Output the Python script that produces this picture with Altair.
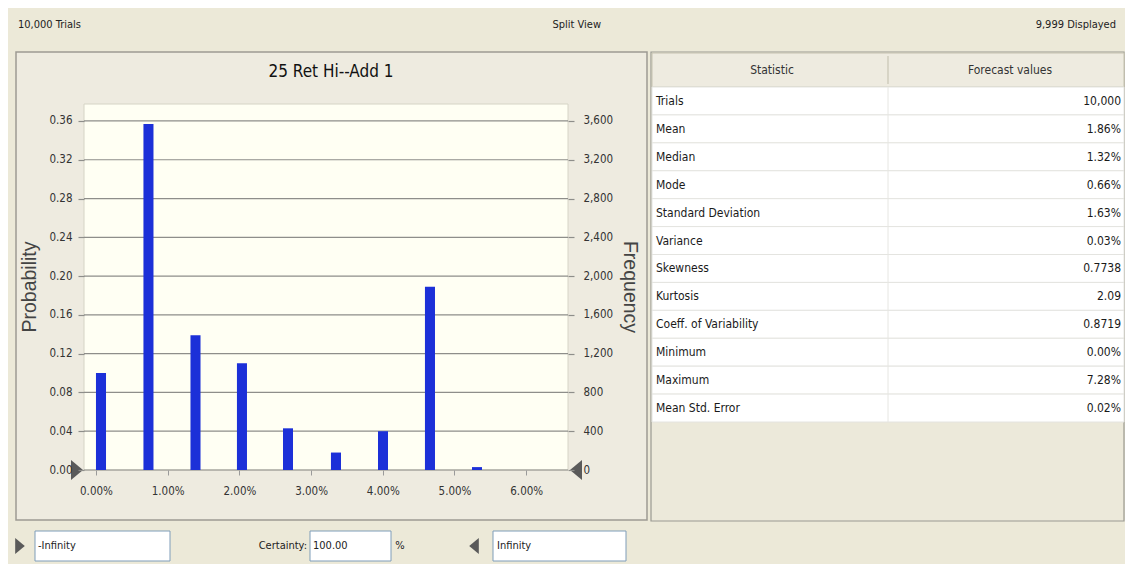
import altair as alt
import pandas as pd

# ---------------- data ----------------
bin_lo = [0.00000, 0.00662, 0.01318, 0.01966, 0.02608, 0.03277, 0.03933, 0.04588, 0.05244]
bin_hi = [0.00140, 0.00802, 0.01458, 0.02106, 0.02748, 0.03417, 0.04073, 0.04728, 0.05384]
probability = [0.100, 0.357, 0.139, 0.110, 0.043, 0.018, 0.040, 0.189, 0.003]
n_trials = 10000

prob_ticks = [0.00, 0.04, 0.08, 0.12, 0.16, 0.20, 0.24, 0.28, 0.32, 0.36]
freq_ticks = [0, 400, 800, 1200, 1600, 2000, 2400, 2800, 3200, 3600]
x_ticks = [0.00, 0.01, 0.02, 0.03, 0.04, 0.05, 0.06]

stat_names = ["Trials", "Mean", "Median", "Mode", "Standard Deviation", "Variance",
              "Skewness", "Kurtosis", "Coeff. of Variability", "Minimum", "Maximum",
              "Mean Std. Error"]
stat_values = ["10,000", "1.86%", "1.32%", "0.66%", "1.63%", "0.03%", "0.7738",
               "2.09", "0.8719", "0.00%", "7.28%", "0.02%"]

title_text = "25 Ret Hi--Add 1"
header_left = "10,000 Trials"
header_mid = "Split View"
header_right = "9,999 Displayed"
col_heads = ["Statistic", "Forecast values"]

# ---------------- layout ----------------
W, H = 1117, 556
OX, OY = 8, 8          # page margin: screenshot pixel -> chart pixel
FONT = "'Liberation Sans Narrow', 'Arial Narrow', 'DejaVu Sans Condensed', 'Liberation Sans', sans-serif"
FONT_W = "'Liberation Sans', Arial, sans-serif"
BG = "#ECE9D8"


def px(v):
    return v - OX


def py(v):
    return v - OY


one = pd.DataFrame({"k": [0]})


def rect(x0, y0, x1, y1, fill, stroke=None, sw=1.0):
    kw = dict(fill=fill)
    if stroke:
        kw.update(stroke=stroke, strokeWidth=sw)
    else:
        kw.update(strokeWidth=0)
    return alt.Chart(one).mark_rect(**kw).encode(
        x=alt.value(px(x0)), x2=alt.value(px(x1)),
        y=alt.value(py(y0)), y2=alt.value(py(y1)))


def vline(x, y0, y1, color, sw=1.0):
    return alt.Chart(one).mark_rule(color=color, strokeWidth=sw).encode(
        x=alt.value(px(x)), y=alt.value(py(y0)), y2=alt.value(py(y1)))


def label(txt, x, y, size=11, align="left", color="#222222", angle=0, font=FONT):
    return alt.Chart(one).mark_text(
        text=txt, align=align, baseline="middle", fontSize=size, font=font,
        color=color, angle=angle).encode(x=alt.value(px(x)), y=alt.value(py(y)))


def tri(x, y, direction, size):
    path = "M-0.6,-1L0.6,0L-0.6,1Z" if direction == "right" else "M0.6,-1L-0.6,0L0.6,1Z"
    return alt.Chart(one).mark_point(
        shape=path, filled=True, size=size, color="#5a5a5a", opacity=1, strokeWidth=0
    ).encode(x=alt.value(px(x)), y=alt.value(py(y)))


# plot area in screenshot pixels
PL, PR, PT, PB = 84, 568, 104, 470

x_scale = alt.Scale(domain=[-0.00167, 0.06583], range=[px(PL), px(PR)], nice=False, zero=False)
prob_scale = alt.Scale(domain=[0, 0.3775], range=[py(PB), py(PT)], nice=False)
freq_scale = alt.Scale(domain=[0, 0.3775 * n_trials], range=[py(PB), py(PT)], nice=False)

hist = pd.DataFrame({"lo": bin_lo, "hi": bin_hi, "p": probability})

# ---------------- chrome ----------------
layers = []
layers.append(label(header_left, 18, 25, size=11))
layers.append(label(header_mid, 601, 25, size=11, align="right"))
layers.append(label(header_right, 1116, 25, size=11, align="right"))

# chart panel
layers.append(rect(16, 52, 647, 520, "#EEEBE0", "#9d9b92", 1.5))
layers.append(label(title_text, 331, 72, size=17, align="center", color="#111111"))
# plot background
layers.append(rect(PL, PT, PR, PB, "#FFFFF3", "#d6d4c6", 1))

# grid lines through the probability scale
grid = alt.Chart(pd.DataFrame({"g": prob_ticks})).mark_rule(
    color="#8e8e8a", strokeWidth=1.2).encode(
    y=alt.Y("g:Q", scale=prob_scale, axis=None),
    x=alt.value(px(PL)), x2=alt.value(px(PR)))
layers.append(grid)

# bars + x axis + probability axis
bars = alt.Chart(hist).mark_rect(color="#1c30d8").encode(
    x=alt.X("lo:Q", scale=x_scale,
            axis=alt.Axis(orient="bottom", values=x_ticks, format=".2%",
                          offset=-(H - py(PB)), domain=False, grid=False,
                          tickSize=5, tickColor="#9a9a9a", tickWidth=1,
                          labelFont=FONT, labelFontSize=11.5, labelColor="#333333",
                          labelPadding=10, title=None, zindex=1,
                          labelFlush=False, labelOverlap=False)),
    x2="hi:Q",
    y=alt.Y("p:Q", scale=prob_scale,
            axis=alt.Axis(orient="left", values=prob_ticks, format=".2f",
                          offset=-px(PL), domain=False, grid=False,
                          tickSize=6, tickColor="#8e8e8a", tickWidth=1.2,
                          labelFont=FONT, labelFontSize=11.5, labelColor="#333333",
                          labelPadding=6, title=None, zindex=1,
                          labelFlush=False, labelOverlap=False)),
    y2=alt.datum(0),
)
layers.append(bars)

# frequency axis (right) through its own scale
freq = alt.Chart(hist).transform_calculate(freq=f"datum.p * {n_trials}").mark_point(
    opacity=0).encode(
    x=alt.value(px(300)),
    y=alt.Y("freq:Q", scale=freq_scale,
            axis=alt.Axis(orient="right", values=freq_ticks, format=",d",
                          offset=-(W - px(PR)), domain=False, grid=False,
                          tickSize=6, tickColor="#8e8e8a", tickWidth=1.2,
                          labelFont=FONT, labelFontSize=11.5, labelColor="#333333",
                          labelPadding=9, title=None, zindex=1,
                          labelFlush=False, labelOverlap=False)),
)
layers.append(freq)

layers.append(label("Probability", 30, 287, size=19.5, align="center", color="#444444",
                    angle=270, font=FONT_W))
layers.append(label("Frequency", 630, 287, size=19.5, align="center", color="#444444",
                    angle=90, font=FONT_W))
layers.append(tri(77, 470, "right", 400))
layers.append(tri(576, 470, "left", 400))

# ---------------- statistics table ----------------
TL, TR, TT, TH, TB = 652, 1124, 53, 87, 422
layers.append(rect(651, 52, TR, 521, "#ECE9DA", "#9a9a92", 1.2))
layers.append(rect(TL, TT, TR, TH, "#EEEBE0", "#c5c2b0", 1))
layers.append(vline(888, TT + 3, TH - 3, "#c0bdab"))
layers.append(label(col_heads[0], 772, 70, size=12, align="center", color="#333333"))
layers.append(label(col_heads[1], 1010, 70, size=12, align="center", color="#333333"))

tbl = pd.DataFrame({"row": list(range(len(stat_names))), "name": stat_names,
                    "value": stat_values})
row_band = alt.Scale(type="band", domain=list(range(len(stat_names))),
                     range=[py(TH), py(TB)], paddingInner=0, paddingOuter=0)
row_point = alt.Scale(type="point", domain=list(range(len(stat_names))),
                      range=[py(TH), py(TB)], padding=0.5)
cells = alt.Chart(tbl).mark_rect(fill="white", stroke="#e4e4e0", strokeWidth=1).encode(
    y=alt.Y("row:O", scale=row_band, axis=None),
    x=alt.value(px(TL)), x2=alt.value(px(TR)))
layers.append(cells)
layers.append(vline(888, TH, TB, "#e6e6e2"))
names = alt.Chart(tbl).mark_text(align="left", baseline="middle", font=FONT,
                                 fontSize=12, color="#1a1a1a").encode(
    y=alt.Y("row:O", scale=row_point, axis=None),
    x=alt.value(px(656)), text="name:N")
values = alt.Chart(tbl).mark_text(align="right", baseline="middle", font=FONT,
                                  fontSize=12, color="#1a1a1a").encode(
    y=alt.Y("row:O", scale=row_point, axis=None),
    x=alt.value(px(1121)), text="value:N")
layers += [names, values]

# ---------------- bottom controls ----------------
BY = 546
layers.append(tri(20, BY, "right", 256))
layers.append(rect(35, 531, 170, 561, "white", "#7f9db9", 1))
layers.append(label("-Infinity", 38, BY, size=11))
layers.append(label("Certainty:", 307, BY, size=11, align="right"))
layers.append(rect(310, 531, 391, 561, "white", "#7f9db9", 1))
layers.append(label("100.00", 313, BY, size=11))
layers.append(label("%", 400, BY, size=11, align="center"))
layers.append(tri(474, BY, "left", 256))
layers.append(rect(493, 531, 626, 561, "white", "#7f9db9", 1))
layers.append(label("Infinity", 497, BY, size=11))

chart = alt.layer(*layers).resolve_scale(y="independent").properties(
    width=W, height=H, padding=0, autosize="none", background=BG
).configure_view(stroke=None)

chart.save("out.html", embed_options={"renderer": "svg", "actions": False})
